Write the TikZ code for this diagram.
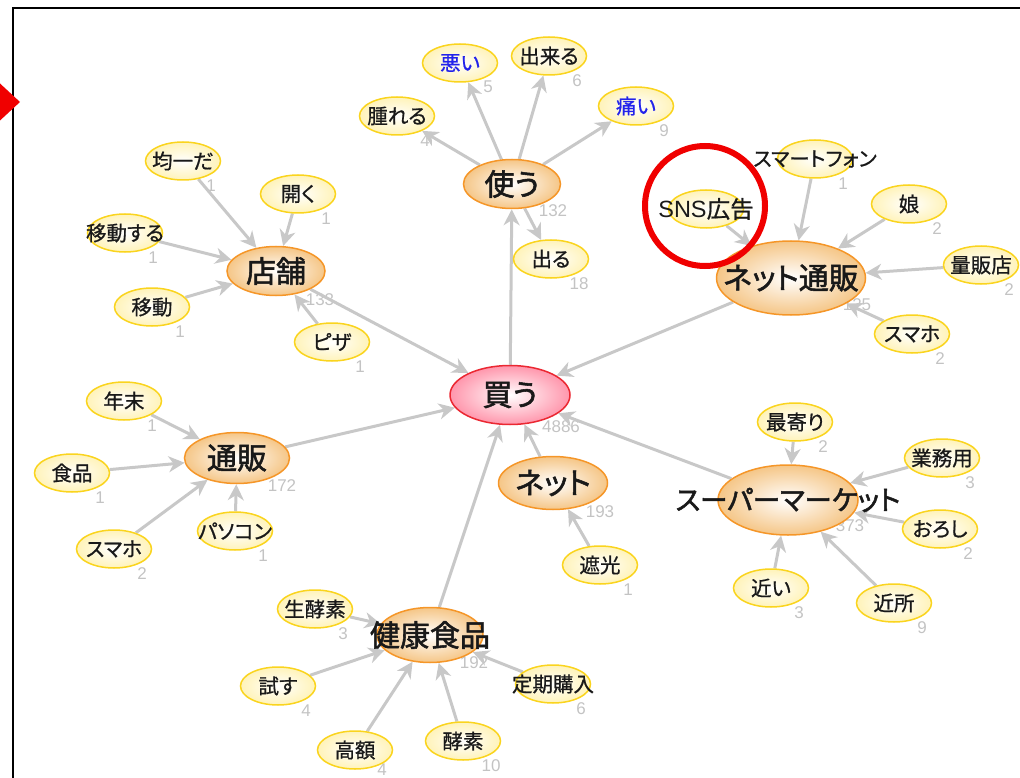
\documentclass[tikz,border=0pt]{standalone}
\usepackage{fontspec}
\setmainfont{Liberation Sans}
\newfontfamily\jp[RawFeature={+palt},FakeBold=0.8]{Noto Sans CJK JP}
\newfontfamily\jpb[RawFeature={+palt},FakeBold=1.8]{Noto Sans CJK JP}
\usetikzlibrary{arrows.meta,shapes.geometric}
\definecolor{edgegray}{RGB}{200,200,200}
\definecolor{leafborder}{RGB}{250,212,30}
\definecolor{leaffill}{RGB}{255,243,185}
\definecolor{hubborder}{RGB}{245,150,40}
\definecolor{hubfill}{RGB}{245,198,135}
\definecolor{rootborder}{RGB}{235,40,50}
\definecolor{rootfill}{RGB}{255,150,172}
\definecolor{cntgray}{RGB}{195,195,195}
\definecolor{txt}{RGB}{25,25,25}
\definecolor{bluetxt}{RGB}{35,35,235}
\definecolor{markred}{RGB}{240,0,0}
\pgfdeclarelayer{cntlayer}
\pgfdeclarelayer{edgelayer}
\pgfsetlayers{cntlayer,edgelayer,main}
\tikzset{
  leaf/.style={ellipse, draw=leafborder, line width=1.5pt, inner color=white, outer color=leaffill,
    minimum width=75pt, minimum height=38pt, inner sep=0pt, text=txt,
    font=\jp\fontsize{20.5}{20.5}\selectfont},
  hub/.style={ellipse, draw=hubborder, line width=1.5pt, inner color=white, outer color=hubfill,
    inner sep=0pt, text=txt, font=\jpb\fontsize{30}{30}\selectfont},
  rootnode/.style={hub, draw=rootborder, outer color=rootfill},
  cnt/.style={inner sep=0pt, text=cntgray, font=\fontsize{17}{17}\selectfont},
  conn/.style={draw=edgegray, line width=3pt, -{Stealth[length=16pt,width=16pt,inset=5pt]}},
}
\newcommand{\lf}[4]{% name, pos, text, count
  \node[leaf] (#1) at (#2) {\makebox[0pt]{#3}};
  \begin{pgfonlayer}{cntlayer}\node[cnt] (#1-n) at ([shift={(28,25)}]#1.center) {#4};\end{pgfonlayer}}
\begin{document}
\begin{tikzpicture}[x=1pt,y=-1pt]
\useasboundingbox (0,0) rectangle (1020,778);
\begin{scope}
\clip (0,0) rectangle (1020,778);
\draw[line width=2pt, black] (13,800) -- (13,8) -- (1040,8);
\fill[markred] (20,102) -- (-20,65) -- (-20,139) -- cycle;
\end{scope}

% hubs
\node[rootnode, minimum width=120pt, minimum height=59pt] (kau) at (510,395) {買う};
\node[hub, minimum width=97pt, minimum height=49pt] (tsukau) at (512,184) {使う};
\node[hub, minimum width=98pt, minimum height=49pt] (tenpo) at (276,271) {店舗};
\node[hub, minimum width=105pt, minimum height=51pt] (tsuhan) at (237,458) {通販};
\node[hub, minimum width=109pt, minimum height=53pt] (net) at (553,483) {ネット};
\node[hub, minimum width=106pt, minimum height=55pt] (kenko) at (430,635) {\makebox[0pt]{健康食品}};
\node[hub, minimum width=149pt, minimum height=74pt] (netsuhan) at (791,278) {\makebox[0pt]{ネット通販}};
\node[hub, minimum width=140pt, minimum height=70pt, font=\jpb\fontsize{27.5}{27.5}\selectfont] (super) at (788,500) {\makebox[0pt]{スーパーマーケット}};
\begin{pgfonlayer}{cntlayer}
\node[cnt] (kau-n) at (561,427) {4886};
\node[cnt] (tsukau-n) at (553,211) {132};
\node[cnt] (tenpo-n) at (320,300) {133};
\node[cnt] (tsuhan-n) at (282,486) {172};
\node[cnt] (net-n) at (600,512) {193};
\node[cnt] (kenko-n) at (474,663) {192};
\node[cnt] (netsuhan-n) at (857,305) {125};
\node[cnt] (super-n) at (850,526) {373};
\end{pgfonlayer}

% leaves
\node[leaf, text=bluetxt] (akui) at (460,63) {\makebox[0pt]{悪い}};
\begin{pgfonlayer}{cntlayer}\node[cnt] (akui-n) at (488,87) {5};\end{pgfonlayer}
\lf{dekiru}{549,56}{出来る}{6}
\lf{hareru}{397,116}{腫れる}{4}
\node[leaf, text=bluetxt] (itai) at (636,106) {\makebox[0pt]{痛い}};
\begin{pgfonlayer}{cntlayer}\node[cnt] (itai-n) at (664,131) {9};\end{pgfonlayer}
\lf{deru}{551,259}{出る}{18}
\lf{kinitsu}{183,161}{均一だ}{1}
\lf{hiraku}{298,194}{開く}{1}
\lf{idosuru}{125,233}{移動する}{1}
\lf{ido}{152,307}{移動}{1}
\lf{piza}{332,342}{ピザ}{1}
\lf{nenmatsu}{124,401}{年末}{1}
\lf{shokuhin}{72,473}{食品}{1}
\lf{sumahoa}{114,549}{スマホ}{2}
\lf{pasokon}{235,531}{パソコン}{1}
\lf{namakoso}{315,609}{生酵素}{3}
\lf{tamesu}{278,686}{試す}{4}
\node[leaf] (kogaku) at (355,750) {\makebox[0pt]{高額}};
\begin{pgfonlayer}{cntlayer}\node[cnt] (kogaku-n) at (382,770) {4};\end{pgfonlayer}
\lf{koso}{463,741}{酵素}{10}
\lf{teiki}{553,684}{定期購入}{6}
\lf{shako}{600,565}{遮光}{1}
\node[leaf, font=\jp\fontsize{23.5}{23.5}\selectfont] (sns) at (706,209) {\makebox[0pt]{{\rmfamily SNS}広告}};
\lf{smartphone}{815,159}{スマートフォン}{1}
\lf{musume}{909,204}{娘}{2}
\lf{ryohan}{981,265}{量販店}{2}
\lf{sumahob}{912,334}{スマホ}{2}
\lf{moyori}{795,422}{最寄り}{2}
\lf{gyomu}{942,458}{業務用}{3}
\lf{oroshi}{940,529}{おろし}{2}
\lf{chikai}{771,588}{近い}{3}
\lf{kinjo}{894,603}{近所}{9}

\begin{pgfonlayer}{edgelayer}
\foreach \a/\b in {kau/tsukau, tsukau/akui, tsukau/dekiru, tsukau/hareru, tsukau/itai, tsukau/deru,
  tenpo/kau, tsuhan/kau, net/kau, kenko/kau, netsuhan/kau, super/kau,
  kinitsu/tenpo, hiraku/tenpo, idosuru/tenpo, ido/tenpo, piza/tenpo,
  nenmatsu/tsuhan, shokuhin/tsuhan, sumahoa/tsuhan, pasokon/tsuhan,
  shako/net,
  namakoso/kenko, tamesu/kenko, kogaku/kenko, koso/kenko, teiki/kenko,
  sns/netsuhan, smartphone/netsuhan, musume/netsuhan, ryohan/netsuhan, sumahob/netsuhan,
  moyori/super, gyomu/super, oroshi/super, chikai/super, kinjo/super}
  \draw[conn] (\a) -- (\b);
\end{pgfonlayer}

% highlight circle
\node[circle, draw=markred, line width=6pt, minimum size=120pt, inner sep=0pt] (mark) at (705,206) {};
\end{tikzpicture}
\end{document}
